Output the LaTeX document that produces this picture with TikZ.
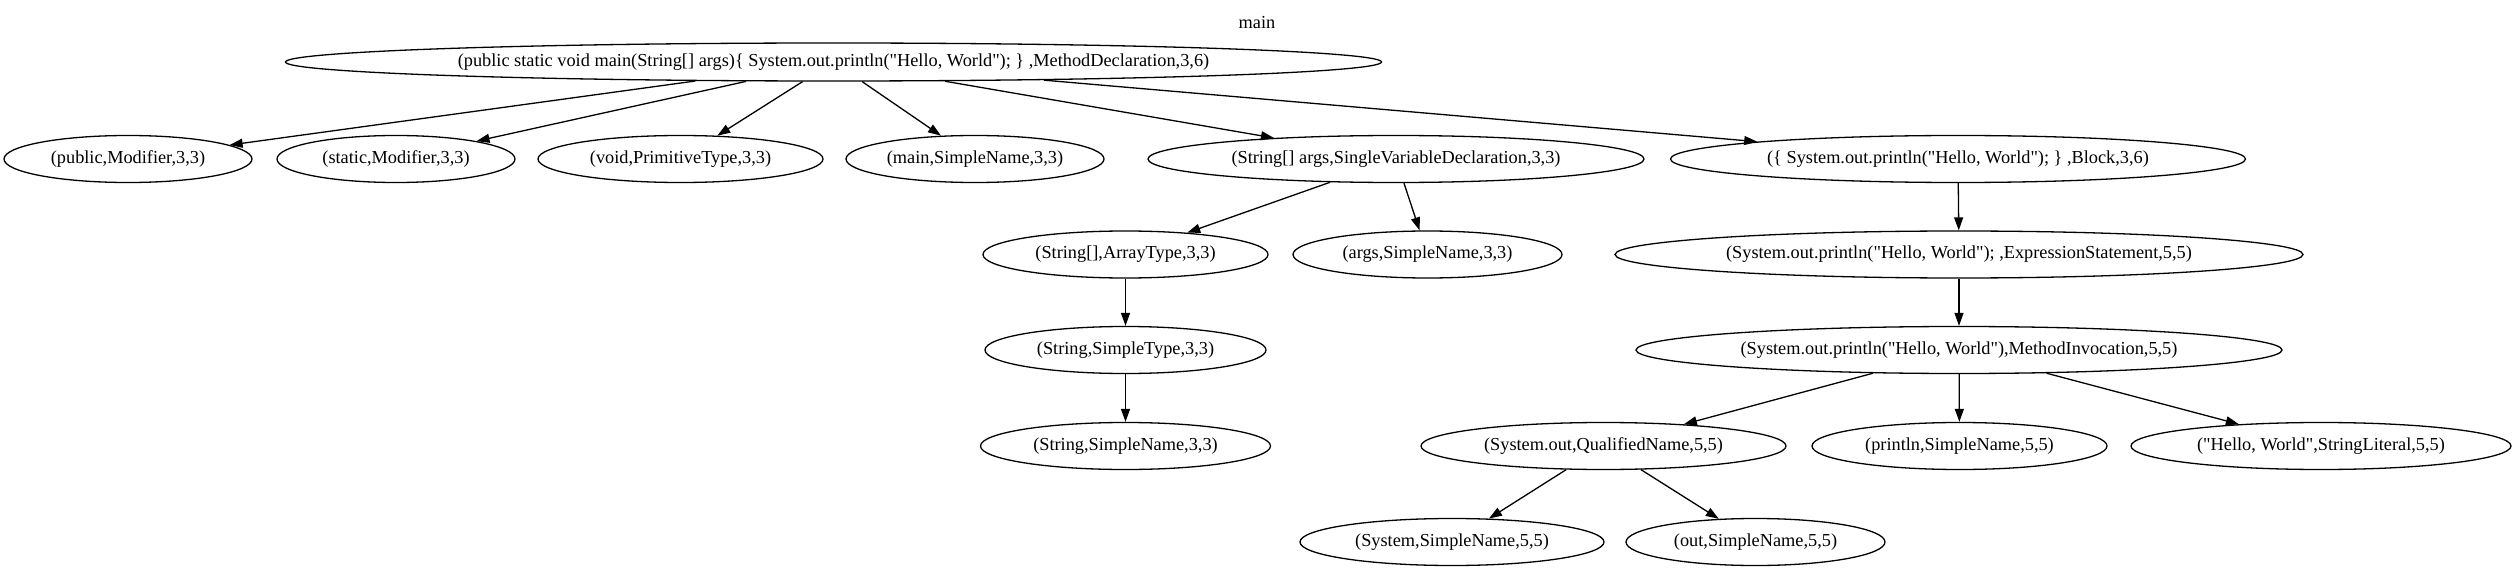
\documentclass[tikz,border=0pt]{standalone}
\usepackage{fontspec}
\setmainfont{Liberation Serif}[Ligatures=TeXOff]
\usetikzlibrary{shapes.geometric,arrows.meta}
\tikzset{
  nd/.style={ellipse, draw, line width=1.3pt, inner sep=0pt, minimum height=47pt,
    font=\fontsize{18.3}{22}\selectfont},
  ed/.style={line width=1.3pt, -{Triangle[length=13pt,width=9pt]}},
  lbl/.style={inner sep=0pt, font=\fontsize{18.3}{22}\selectfont}
}
\begin{document}
\begin{tikzpicture}[x=1pt,y=-1pt]
\useasboundingbox (0,0) rectangle (2514,572);
\node[lbl] (title) at (1257,23) {main};
\node[nd, minimum width=1096pt, minimum height=38pt] (root) at (833.5,62) {(public static void main(String[] args)\{ System.out.println("Hello, World"); \} ,MethodDeclaration,3,6)};
% row 2
\node[nd, minimum width=248pt] (public) at (128,159) {(public,Modifier,3,3)};
\node[nd, minimum width=238pt] (static) at (396,159) {(static,Modifier,3,3)};
\node[nd, minimum width=285pt] (void) at (680.5,159) {(void,PrimitiveType,3,3)};
\node[nd, minimum width=258pt] (mainsn) at (975,159) {(main,SimpleName,3,3)};
\node[nd, minimum width=496pt] (sargs) at (1396,159) {(String[] args,SingleVariableDeclaration,3,3)};
\node[nd, minimum width=575pt] (block) at (1958,159) {(\{ System.out.println("Hello, World"); \} ,Block,3,6)};
% row 3
\node[nd, minimum width=285pt] (arrt) at (1125.5,254.5) {(String[],ArrayType,3,3)};
\node[nd, minimum width=269pt] (argssn) at (1427.5,254.5) {(args,SimpleName,3,3)};
\node[nd, minimum width=688pt] (expr) at (1959,254.5) {(System.out.println("Hello, World"); ,ExpressionStatement,5,5)};
% row 4
\node[nd, minimum width=281pt] (stype) at (1125.5,350) {(String,SimpleType,3,3)};
\node[nd, minimum width=646pt] (minv) at (1959,350) {(System.out.println("Hello, World"),MethodInvocation,5,5)};
% row 5
\node[nd, minimum width=290pt] (ssn) at (1125.5,446) {(String,SimpleName,3,3)};
\node[nd, minimum width=365pt] (qual) at (1603.5,446) {(System.out,QualifiedName,5,5)};
\node[nd, minimum width=295pt] (println) at (1959.5,446) {(println,SimpleName,5,5)};
\node[nd, minimum width=380pt] (strlit) at (2321,446) {("Hello, World",StringLiteral,5,5)};
% row 6
\node[nd, minimum width=304pt] (syssn) at (1452,542) {(System,SimpleName,5,5)};
\node[nd, minimum width=259pt] (outsn) at (1755.5,542) {(out,SimpleName,5,5)};
% edges
\draw[ed] (root) -- (public);
\draw[ed] (root) -- (static);
\draw[ed] (root) -- (void);
\draw[ed] (root) -- (mainsn);
\draw[ed] (root) -- (sargs);
\draw[ed] (root) -- (block);
\draw[ed] (sargs) -- (arrt);
\draw[ed] (sargs) -- (argssn);
\draw[ed] (arrt) -- (stype);
\draw[ed] (stype) -- (ssn);
\draw[ed] (block) -- (expr);
\draw[ed] (expr) -- (minv);
\draw[ed] (minv) -- (qual);
\draw[ed] (minv) -- (println);
\draw[ed] (minv) -- (strlit);
\draw[ed] (qual) -- (syssn);
\draw[ed] (qual) -- (outsn);
\end{tikzpicture}
\end{document}
